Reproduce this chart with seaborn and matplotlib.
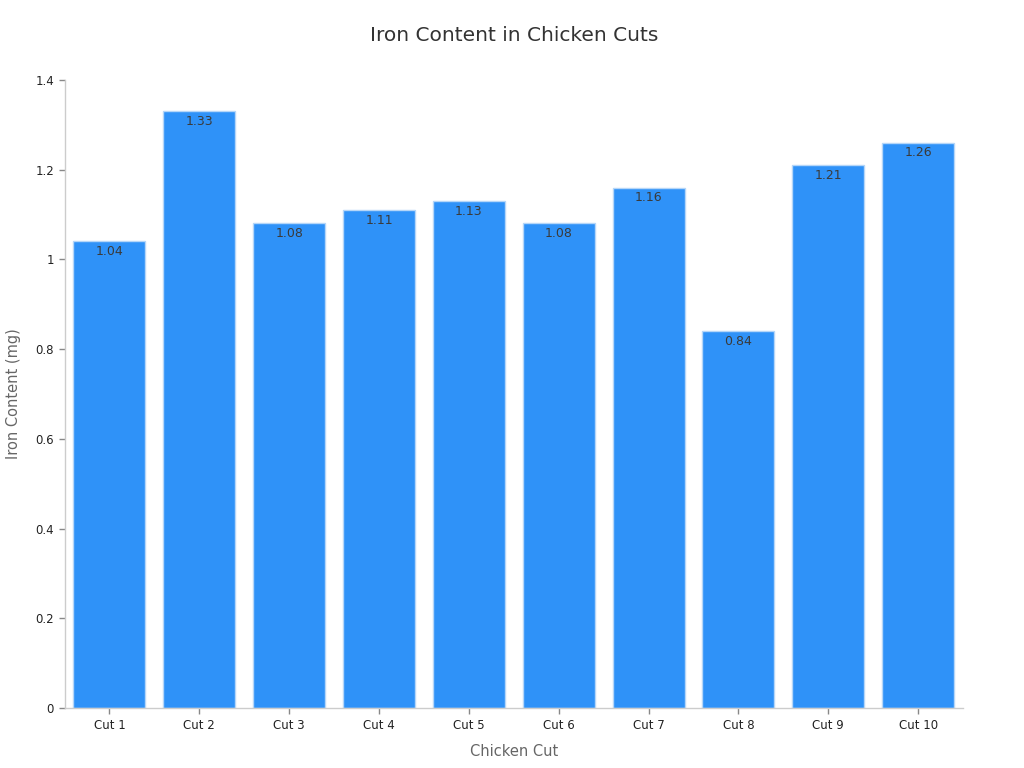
import matplotlib.pyplot as plt
import matplotlib.ticker as mticker
import pandas as pd
import seaborn as sns

# Data
cuts = ["Cut 1", "Cut 2", "Cut 3", "Cut 4", "Cut 5", "Cut 6", "Cut 7", "Cut 8", "Cut 9", "Cut 10"]
iron_mg = [1.04, 1.33, 1.08, 1.11, 1.13, 1.08, 1.16, 0.84, 1.21, 1.26]

df = pd.DataFrame({"cut": cuts, "iron": iron_mg})

sns.set_theme(style="white")
plt.rcParams["font.family"] = ["DejaVu Sans"]

fig = plt.figure(figsize=(10.24, 7.68), dpi=100)
ax = fig.add_axes([0.0630, 0.078, 0.8775, 0.818])

sns.barplot(
    data=df,
    x="cut",
    y="iron",
    color="#2f92f8",
    saturation=1,
    width=0.8,
    edgecolor="#b5d6f8",
    linewidth=1,
    ax=ax,
)

# Value labels just inside the top of each bar
for i, v in enumerate(iron_mg):
    ax.text(i, v - 0.008, f"{v:.2f}", ha="center", va="top", fontsize=9, color="#3a3a3a")

ax.set_xlim(-0.5, 9.5)
ax.set_ylim(0, 1.4)
ax.yaxis.set_major_locator(mticker.MultipleLocator(0.2))
ax.yaxis.set_major_formatter(mticker.FuncFormatter(lambda v, p: f"{v:g}"))

ax.set_title("Iron Content in Chicken Cuts", fontsize=14.5, color="#333333", pad=28)
ax.set_xlabel("Chicken Cut", fontsize=10.5, color="#666666", labelpad=9)
ax.set_ylabel("Iron Content (mg)", fontsize=10.5, color="#666666", labelpad=10)

sns.despine(ax=ax)
for side in ["left", "bottom"]:
    ax.spines[side].set_color("#cccccc")
    ax.spines[side].set_linewidth(1)
ax.tick_params(axis="both", length=4, width=1, color="#888888", labelsize=8.5, labelcolor="#222222", bottom=True, left=True)

fig.savefig("out.png", dpi=100)
